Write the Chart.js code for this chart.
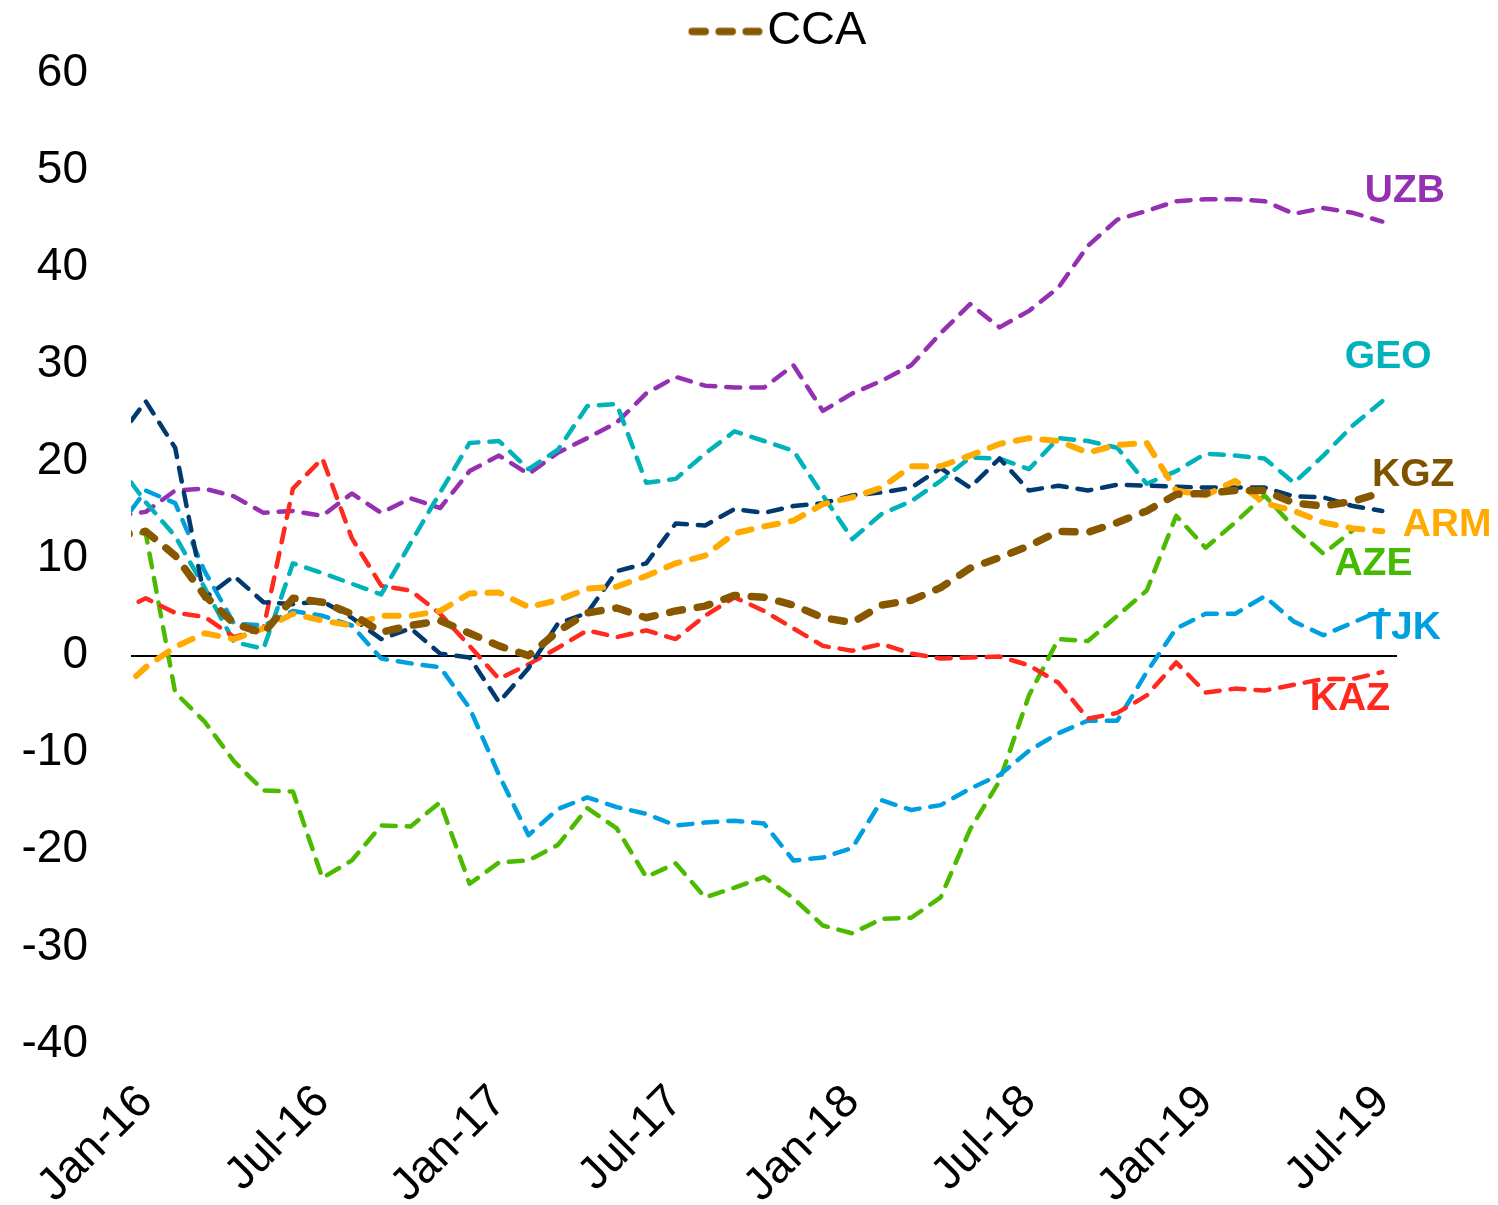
<!DOCTYPE html>
<html>
<head>
<meta charset="utf-8">
<script src="https://cdn.jsdelivr.net/npm/chart.js@4.4.1/dist/chart.umd.min.js"></script>
<style>
  html, body { margin: 0; padding: 0; background: #ffffff; }
  #wrap { width: 1498px; height: 1205px; position: relative; }
</style>
</head>
<body>
<div id="wrap"><canvas id="c" width="1498" height="1205"></canvas></div>
<script>
// Month labels: Dec-15 (partial, clipped at the left edge) through Jul-19
const months = ['Dec-15',
  'Jan-16','Feb-16','Mar-16','Apr-16','May-16','Jun-16','Jul-16','Aug-16','Sep-16','Oct-16','Nov-16','Dec-16',
  'Jan-17','Feb-17','Mar-17','Apr-17','May-17','Jun-17','Jul-17','Aug-17','Sep-17','Oct-17','Nov-17','Dec-17',
  'Jan-18','Feb-18','Mar-18','Apr-18','May-18','Jun-18','Jul-18','Aug-18','Sep-18','Oct-18','Nov-18','Dec-18',
  'Jan-19','Feb-19','Mar-19','Apr-19','May-19','Jun-19','Jul-19'];
const tickLabels = ['Jan-16','Jul-16','Jan-17','Jul-17','Jan-18','Jul-18','Jan-19','Jul-19'];
const yTicks = [-40, -30, -20, -10, 0, 10, 20, 30, 40, 50, 60];

const UZB = [14.4, 14.8,17.0,17.2,16.4,14.7,14.9,14.4,16.7,14.7,16.2,15.2,19.0,
  20.6,18.7,20.9,22.4,24.0,27.0,28.7,27.8,27.6,27.6,29.9,25.2,
  27.0,28.3,29.9,33.2,36.2,33.8,35.5,37.9,42.2,44.9,45.8,46.8,
  47.0,47.0,46.8,45.5,46.1,45.6,44.7];
const GEO = [19.9, 15.8,12.3,7.0,1.4,0.7,9.5,8.5,7.4,6.3,11.6,16.8,21.9,
  22.1,19.2,21.2,25.7,25.9,17.8,18.2,20.8,23.1,22.1,21.1,16.5,
  12.0,14.6,15.9,18.0,20.4,20.3,19.2,22.4,22.1,21.4,17.7,19.0,
  20.8,20.6,20.3,17.8,20.6,23.7,26.2];
const KGZ = [22.1, 26.2,21.4,5.9,8.2,5.5,5.3,5.6,3.9,1.7,2.8,0.2,-0.2,
  -4.8,-1.3,3.3,4.4,8.7,9.5,13.6,13.4,15.1,14.7,15.4,15.7,
  16.5,16.8,17.3,19.3,17.3,20.3,17.0,17.5,17.0,17.6,17.5,17.4,
  17.3,17.3,17.3,16.4,16.3,15.4,14.9];
const CCA = [12.3, 12.8,10.3,6.2,3.3,2.3,5.9,5.5,4.3,2.4,3.1,3.6,2.3,
  1.0,0.0,2.5,4.4,4.9,3.9,4.6,5.1,6.2,6.0,5.2,3.9,
  3.4,5.2,5.7,7.0,9.0,10.1,11.3,12.8,12.7,13.7,14.9,16.6,
  16.7,17.0,17.0,15.7,15.4,15.9,16.8];
const ARM = [-4.0, -1.2,0.9,2.3,1.7,2.8,4.3,3.6,3.1,4.1,4.1,4.6,6.4,
  6.5,5.0,5.7,6.9,7.1,8.2,9.5,10.3,12.6,13.3,13.9,15.6,
  16.3,17.3,19.5,19.5,20.6,21.8,22.4,22.1,20.9,21.7,21.9,17.0,
  16.5,18.0,15.7,14.9,13.7,13.1,12.8];
const AZE = [12.8, 12.6,-3.8,-6.8,-10.9,-13.9,-14.0,-22.9,-21.1,-17.5,-17.6,-15.1,-23.5,
  -21.3,-21.1,-19.5,-15.7,-17.8,-22.8,-21.4,-24.9,-23.9,-22.8,-25.0,-27.8,
  -28.6,-27.1,-27.0,-24.9,-17.9,-12.9,-4.1,1.7,1.5,4.1,6.7,14.4,
  11.1,13.7,16.5,13.2,10.5,12.9,null];
const TJK = [12.9, 17.0,15.7,8.7,3.3,3.1,4.6,4.1,3.1,-0.3,-0.8,-1.2,-5.4,
  -12.3,-18.5,-15.8,-14.6,-15.6,-16.3,-17.5,-17.2,-17.0,-17.3,-21.1,-20.8,
  -19.8,-14.9,-15.9,-15.4,-13.7,-12.3,-9.8,-8.0,-6.7,-6.7,-1.7,2.8,
  4.3,4.3,6.1,3.5,2.1,3.4,4.7];
const KAZ = [4.4, 5.9,4.4,4.0,1.9,2.8,17.2,20.3,12.1,7.2,6.7,4.3,1.0,
  -2.4,-0.9,0.8,2.6,1.9,2.6,1.7,4.1,6.0,4.6,2.8,1.0,
  0.5,1.2,0.2,-0.3,-0.2,-0.1,-1.0,-2.8,-6.5,-5.9,-4.1,-0.7,
  -3.8,-3.4,-3.6,-3.0,-2.4,-2.4,-1.7];

// month index: Jan-16 = 0
const toPoints = arr => arr.map((v, i) => ({ x: i - 1, y: v }));
const tickIdx = tickLabels.map(l => months.indexOf(l) - 1);

const FONT = "'Liberation Sans', Arial, Helvetica, sans-serif";
Chart.defaults.font.family = FONT;
Chart.defaults.color = '#000000';

function ds(label, data, color, extra) {
  return Object.assign({
    label, data: toPoints(data), borderColor: color, backgroundColor: color,
    borderWidth: 4.5, borderDash: [14, 11], borderCapStyle: 'round',
    borderJoinStyle: 'round', pointRadius: 0, pointHoverRadius: 0, tension: 0,
    fill: false, clip: 0, spanGaps: false
  }, extra || {});
}

const datasets = [
  ds('CCA', CCA, '#875800', { borderWidth: 7.5, borderDash: [13, 15] }),
  ds('ARM', ARM, '#FFAA00', { borderWidth: 6, borderDash: [14, 13] }),
  ds('KGZ', KGZ, '#003A70'),
  ds('KAZ', KAZ, '#FF2A1F'),
  ds('TJK', TJK, '#00A0E0'),
  ds('GEO', GEO, '#00B2BA'),
  ds('UZB', UZB, '#9530B2'),
  ds('AZE', AZE, '#4CBB00')
];

// legend sample: three thick brown dashes
const legendImg = document.createElement('canvas');
legendImg.width = 124; legendImg.height = 12;
(function () {
  const g = legendImg.getContext('2d');
  g.strokeStyle = '#875800'; g.lineWidth = 7.5; g.lineCap = 'round';
  g.setLineDash([13, 14]);
  g.beginPath(); g.moveTo(51.5, 6); g.lineTo(118, 6); g.stroke();
})();

const legendSpacer = {
  id: 'legendSpacer',
  beforeInit(chart) {
    const orig = chart.legend.fit;
    chart.legend.fit = function () { orig.call(this); this.height += 8; };
  }
};

// country name annotations at the right end (positions in data units)
const endLabels = [
  { text: 'UZB', color: '#9530B2', x: 42.77, y: 47.8 },
  { text: 'GEO', color: '#00B2BA', x: 42.2, y: 30.7 },
  { text: 'KGZ', color: '#7F5200', x: 43.05, y: 18.6 },
  { text: 'ARM', color: '#FFAA00', x: 44.2, y: 13.4 },
  { text: 'AZE', color: '#44BB00', x: 41.7, y: 9.4 },
  { text: 'TJK', color: '#00A0E0', x: 42.74, y: 2.8 },
  { text: 'KAZ', color: '#FF2A1F', x: 40.9, y: -4.5 }
];
const endLabelPlugin = {
  id: 'endLabels',
  afterDatasetsDraw(chart) {
    const { ctx, scales: { x, y } } = chart;
    ctx.save();
    ctx.font = "bold 39px " + FONT;
    ctx.textAlign = 'center';
    ctx.textBaseline = 'middle';
    endLabels.forEach(l => {
      ctx.fillStyle = l.color;
      ctx.fillText(l.text, x.getPixelForValue(l.x), y.getPixelForValue(l.y));
    });
    ctx.restore();
  }
};

new Chart(document.getElementById('c'), {
  type: 'line',
  data: { datasets },
  options: {
    responsive: false,
    animation: false,
    events: [],
    layout: { padding: { left: 0, right: 101, top: 0, bottom: 0 } },
    plugins: {
      tooltip: { enabled: false },
      legend: {
        display: true,
        position: 'top',
        fullSize: false,
        labels: {
          filter: item => item.text === 'CCA',
          usePointStyle: true,
          pointStyle: legendImg,
          pointStyleWidth: 82,
          padding: 8,
          color: '#000000',
          font: { size: 47, family: FONT }
        }
      }
    },
    scales: {
      x: {
        type: 'linear',
        min: -0.5,
        max: 42.5,
        afterBuildTicks: s => { s.ticks = tickIdx.map(v => ({ value: v })); },
        afterFit: s => { s.height = 161; },
        grid: { display: false, drawTicks: false },
        border: { display: false },
        ticks: {
          autoSkip: false,
          maxRotation: 45,
          minRotation: 45,
          padding: 31,
          color: '#000000',
          font: { size: 46, family: FONT },
          callback: v => months[v + 1]
        }
      },
      y: {
        min: -40,
        max: 60,
        afterBuildTicks: s => { s.ticks = yTicks.map(v => ({ value: v })); },
        afterFit: s => { s.width = 131; },
        grid: {
          drawTicks: false,
          color: c => (c.tick && c.tick.value === 0) ? '#000000' : 'rgba(0,0,0,0)',
          lineWidth: c => (c.tick && c.tick.value === 0) ? 2 : 0
        },
        border: { display: false },
        ticks: {
          padding: 43,
          color: '#000000',
          font: { size: 46, family: FONT }
        }
      }
    }
  },
  plugins: [legendSpacer, endLabelPlugin]
});
</script>
</body>
</html>
